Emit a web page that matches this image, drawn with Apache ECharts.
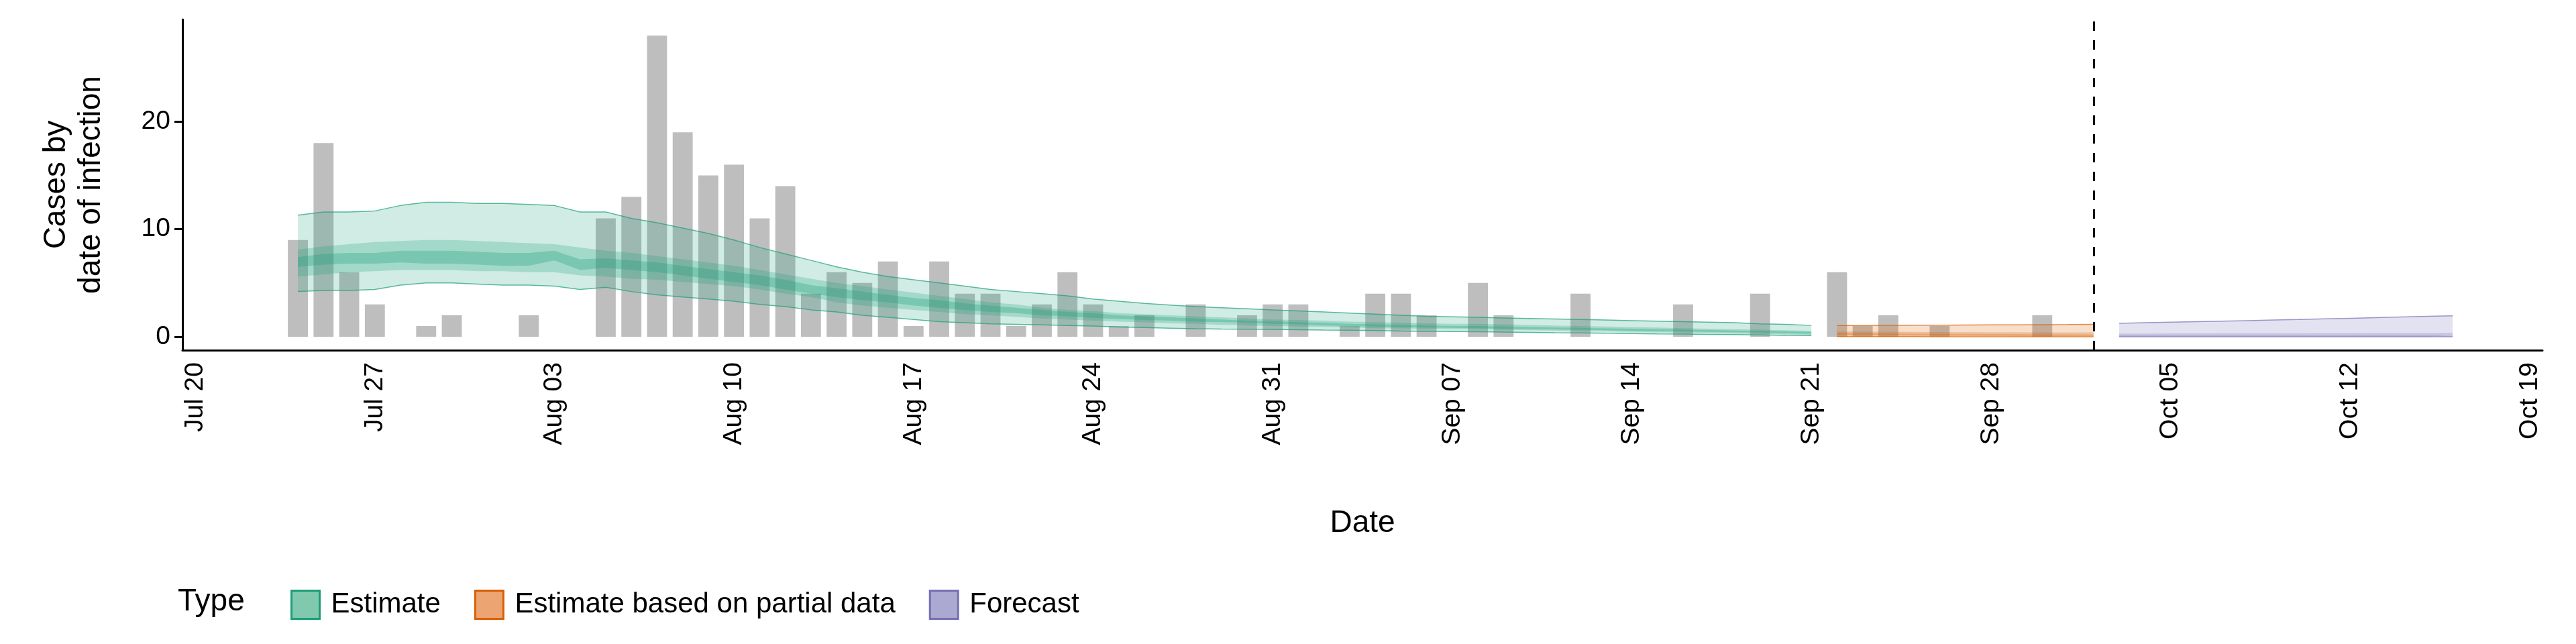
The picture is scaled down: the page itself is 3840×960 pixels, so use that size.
<!DOCTYPE html>
<html>
<head>
<meta charset="utf-8">
<script src="https://cdn.jsdelivr.net/npm/echarts@6/dist/echarts.min.js"></script>
<style>html,body{margin:0;padding:0;background:#fff}#main{width:3840px;height:960px}</style>
</head>
<body>
<div id="main"></div>
<script>
// 数据：按日期读取
var months = ['Jan','Feb','Mar','Apr','May','Jun','Jul','Aug','Sep','Oct','Nov','Dec'];
var dates = [];
for (var d = 0; d < 92; d++) {
    var t = new Date(2020, 6, 20 + d);
    dates.push(months[t.getMonth()] + ' ' + ('0' + t.getDate()).slice(-2));
}

// reported cases, Jul 24 .. Oct 01
var caseStart = 'Jul 24';
var cases = [9,18,6,3,0,1,2,0, 0,2,0,0,11,13,28,19,15,16,11,14,4,6,5,7,1,7,4,4,1,3,6,3,1,2,0,3,0,2,3,
    3,0,1,4,4,2,0,5,2,0,0,4,0,0,0,3,0,0,4,0,0,6,1,2,0,1,0,0,0,2,0];

// estimate, Jul 24 .. Sep 21
var estStart = 'Jul 24';
var estOuterHi = [11.3,11.6,11.6,11.7,12.2,12.5,12.5,12.4, 12.4,12.3,12.2,11.6,11.6,11.0,10.6,10.1,9.6,9.0,8.3,7.7,7.1,6.5,6.0,5.6,5.3,5.0,4.7,4.4,4.2,4.0,3.8,3.5,3.3,3.1,2.95,2.8,2.7,2.6,2.5,
    2.4,2.3,2.2,2.1,2.0,1.9,1.85,1.8,1.75,1.7,1.65,1.6,1.55,1.5,1.45,1.4,1.35,1.3,1.2,1.15,1.05];
var estOuterLo = [4.2,4.3,4.3,4.4,4.8,5.0,5.0,4.9, 4.8,4.8,4.7,4.4,4.6,4.2,3.9,3.7,3.5,3.3,3.0,2.8,2.5,2.3,2.0,1.8,1.6,1.4,1.3,1.2,1.15,1.1,1.05,1.0,0.9,0.85,0.8,0.75,0.72,0.7,0.68,
    0.65,0.62,0.6,0.57,0.53,0.5,0.48,0.46,0.43,0.4,0.37,0.35,0.32,0.3,0.27,0.25,0.22,0.2,0.17,0.13,0.1];
var estMidHi = [8.1,8.4,8.6,8.8,8.9,9.0,9.0,8.9, 8.8,8.7,8.6,8.3,8.0,7.8,7.5,7.2,6.9,6.6,6.2,5.8,5.4,5.0,4.7,4.4,4.1,3.8,3.5,3.2,3.0,2.7,2.5,2.4,2.2,2.1,2.0,1.9,1.8,1.7,1.6,
    1.55,1.5,1.4,1.35,1.3,1.25,1.2,1.2,1.15,1.1,1.05,1.0,0.95,0.9,0.85,0.8,0.75,0.7,0.65,0.6,0.55];
var estMidLo = [5.6,5.8,6.0,6.1,6.2,6.2,6.2,6.1, 6.1,6.0,6.0,5.7,5.6,5.4,5.3,5.1,4.9,4.7,4.4,4.0,3.7,3.2,2.9,2.7,2.5,2.3,2.1,2.0,1.85,1.7,1.6,1.5,1.4,1.35,1.25,1.2,1.1,1.05,1.0,
    0.95,0.9,0.85,0.8,0.78,0.74,0.72,0.7,0.65,0.6,0.57,0.55,0.5,0.45,0.42,0.4,0.35,0.3,0.27,0.22,0.18];
var estInHi = [7.4,7.7,7.8,7.8,8.0,8.0,8.0,7.9, 7.8,7.8,8.0,7.2,7.3,7.1,6.9,6.6,6.3,6.0,5.7,5.3,4.8,4.5,4.2,3.9,3.6,3.4,3.1,2.9,2.7,2.5,2.3,2.2,2.0,1.9,1.8,1.7,1.6,1.5,1.45,
    1.35,1.3,1.2,1.15,1.1,1.05,1.0,1.0,0.95,0.9,0.85,0.82,0.78,0.74,0.7,0.66,0.62,0.58,0.54,0.5,0.45];
var estInLo = [6.5,6.7,6.8,6.8,6.9,6.8,6.8,6.7, 6.6,6.6,7.1,6.2,6.4,6.2,6.0,5.7,5.4,5.1,4.8,4.4,4.0,3.7,3.4,3.2,2.9,2.7,2.5,2.3,2.2,2.0,1.9,1.75,1.65,1.55,1.5,1.4,1.35,1.3,1.2,
    1.15,1.05,1.0,0.95,0.9,0.85,0.82,0.8,0.75,0.7,0.67,0.65,0.6,0.56,0.52,0.5,0.45,0.42,0.38,0.33,0.28];

// estimate based on partial data, Sep 22 .. Oct 02
var partStart = 'Sep 22';
var partOuterHi = [1.05,1.05,1.06,1.07,1.08,1.09,1.1,1.11,1.12,1.13,1.15];
var partOuterLo = [0.02,0.01,0.01,0.01,0.0,0.0,0.0,0.0,0.0,0.0,0.0];
var partMidHi = [0.5,0.48,0.46,0.45,0.44,0.43,0.42,0.42,0.41,0.41,0.4];
var partMidLo = [0.08,0.07,0.06,0.05,0.05,0.04,0.04,0.03,0.03,0.03,0.03];
var partInHi = [0.34,0.32,0.3,0.28,0.26,0.25,0.24,0.23,0.22,0.21,0.2];
var partInLo = [0.16,0.15,0.14,0.12,0.11,0.1,0.09,0.08,0.08,0.07,0.07];

// forecast, Oct 03 .. Oct 16
var fcStart = 'Oct 03';
var fcOuterHi = [1.25,1.3,1.35,1.4,1.45,1.5,1.55,1.6,1.66,1.72,1.78,1.84,1.9,1.95];
var fcOuterLo = [0,0,0,0,0,0,0,0,0,0,0,0,0,0];
var fcMidHi = [0.3,0.3,0.31,0.31,0.32,0.32,0.33,0.33,0.34,0.34,0.35,0.35,0.36,0.36];
var fcMidLo = [0.02,0.02,0.02,0.02,0.02,0.02,0.02,0.02,0.02,0.02,0.02,0.02,0.02,0.02];
var fcInHi = [0.12,0.12,0.12,0.12,0.12,0.12,0.12,0.12,0.12,0.12,0.12,0.12,0.12,0.12];
var fcInLo = [0.03,0.03,0.03,0.03,0.03,0.03,0.03,0.03,0.03,0.03,0.03,0.03,0.03,0.03];

function place(start, arr) {
    var out = dates.map(function () { return null; });
    var s = dates.indexOf(start);
    arr.forEach(function (v, i) { out[s + i] = v; });
    return out;
}
function diff(hi, lo) { return hi.map(function (v, i) { return +(v - lo[i]).toFixed(3); }); }

var series = [{
    name: 'cases', type: 'bar', data: place(caseStart, cases), barWidth: '78%',
    itemStyle: { color: '#bebebe' }, z: 1, silent: true
}];

function band(type, key, hi, lo, start, color, opacity, edge) {
    series.push({
        name: key + '_base', type: 'line', stack: key, data: place(start, lo),
        symbol: 'none', lineStyle: { width: edge ? 1.5 : 0, color: color, opacity: 0.7 },
        areaStyle: { opacity: 0 }, z: 2, silent: true
    });
    series.push({
        name: edge ? type : key + '_w', type: 'line', stack: key, data: place(start, diff(hi, lo)),
        symbol: 'none', lineStyle: { width: edge ? 1.5 : 0, color: color, opacity: 0.7 },
        itemStyle: { color: color },
        areaStyle: { color: color, opacity: opacity }, z: 2, silent: true
    });
}
band('Estimate', 'e1', estOuterHi, estOuterLo, estStart, '#1b9e77', 0.2, true);
band('Estimate', 'e2', estMidHi, estMidLo, estStart, '#1b9e77', 0.25, false);
band('Estimate', 'e3', estInHi, estInLo, estStart, '#1b9e77', 0.3, false);
band('Estimate based on partial data', 'p1', partOuterHi, partOuterLo, partStart, '#d95f02', 0.2, true);
band('Estimate based on partial data', 'p2', partMidHi, partMidLo, partStart, '#d95f02', 0.25, false);
band('Estimate based on partial data', 'p3', partInHi, partInLo, partStart, '#d95f02', 0.3, false);
band('Forecast', 'f1', fcOuterHi, fcOuterLo, fcStart, '#7570b3', 0.2, true);
band('Forecast', 'f2', fcMidHi, fcMidLo, fcStart, '#7570b3', 0.25, false);
band('Forecast', 'f3', fcInHi, fcInLo, fcStart, '#7570b3', 0.3, false);

series[0].markLine = {
    symbol: 'none', silent: true, label: { show: false },
    lineStyle: { color: '#000', type: [14, 14], width: 3 },
    data: [{ xAxis: 'Oct 02' }]
};

var chart = echarts.init(document.getElementById('main'));
var font = 'Liberation Sans';
chart.setOption({
    animation: false,
    textStyle: { fontFamily: font },
    grid: { left: 272, right: 50, top: 29, bottom: 438 },
    xAxis: {
        type: 'category', data: dates, boundaryGap: true,
        name: 'Date', nameLocation: 'middle', nameGap: 235,
        nameTextStyle: { fontSize: 46, color: '#000' },
        axisLine: { onZero: false, lineStyle: { color: '#000', width: 3 } },
        axisTick: { alignWithLabel: true, length: 12, lineStyle: { width: 3, color: '#000' },
            interval: function (i) { return i % 7 === 0; } },
        axisLabel: { rotate: 90, fontSize: 39, color: '#000', margin: 18,
            interval: function (i) { return i % 7 === 0; } }
    },
    yAxis: {
        type: 'value', min: -1.25, max: 29.5,
        name: 'Cases by\ndate of infection', nameLocation: 'middle', nameGap: 110,
        nameTextStyle: { fontSize: 46, color: '#000', lineHeight: 52 },
        splitLine: { show: false },
        axisLine: { show: true, lineStyle: { color: '#000', width: 3 } },
        axisTick: { show: true, length: 12, lineStyle: { width: 3, color: '#000' }, customValues: [0, 10, 20] },
        axisLabel: { fontSize: 39, color: '#000', margin: 18, customValues: [0, 10, 20] }
    },
    legend: {
        left: 428, top: 874, itemWidth: 42, itemHeight: 42, itemGap: 50, icon: 'rect',
        textStyle: { fontSize: 42, color: '#000', padding: [0, 0, 0, 12] },
        data: [
            { name: 'Estimate', itemStyle: { color: '#80c9ae', borderColor: '#1b9e77', borderWidth: 3 } },
            { name: 'Estimate based on partial data', itemStyle: { color: '#eca472', borderColor: '#d95f02', borderWidth: 3 } },
            { name: 'Forecast', itemStyle: { color: '#aba8d2', borderColor: '#7570b3', borderWidth: 3 } }
        ]
    },
    graphic: [{ type: 'text', left: 265, top: 874, style: { text: 'Type', fontSize: 46, fill: '#000', fontFamily: font } }],
    series: series
});
</script>
</body>
</html>
